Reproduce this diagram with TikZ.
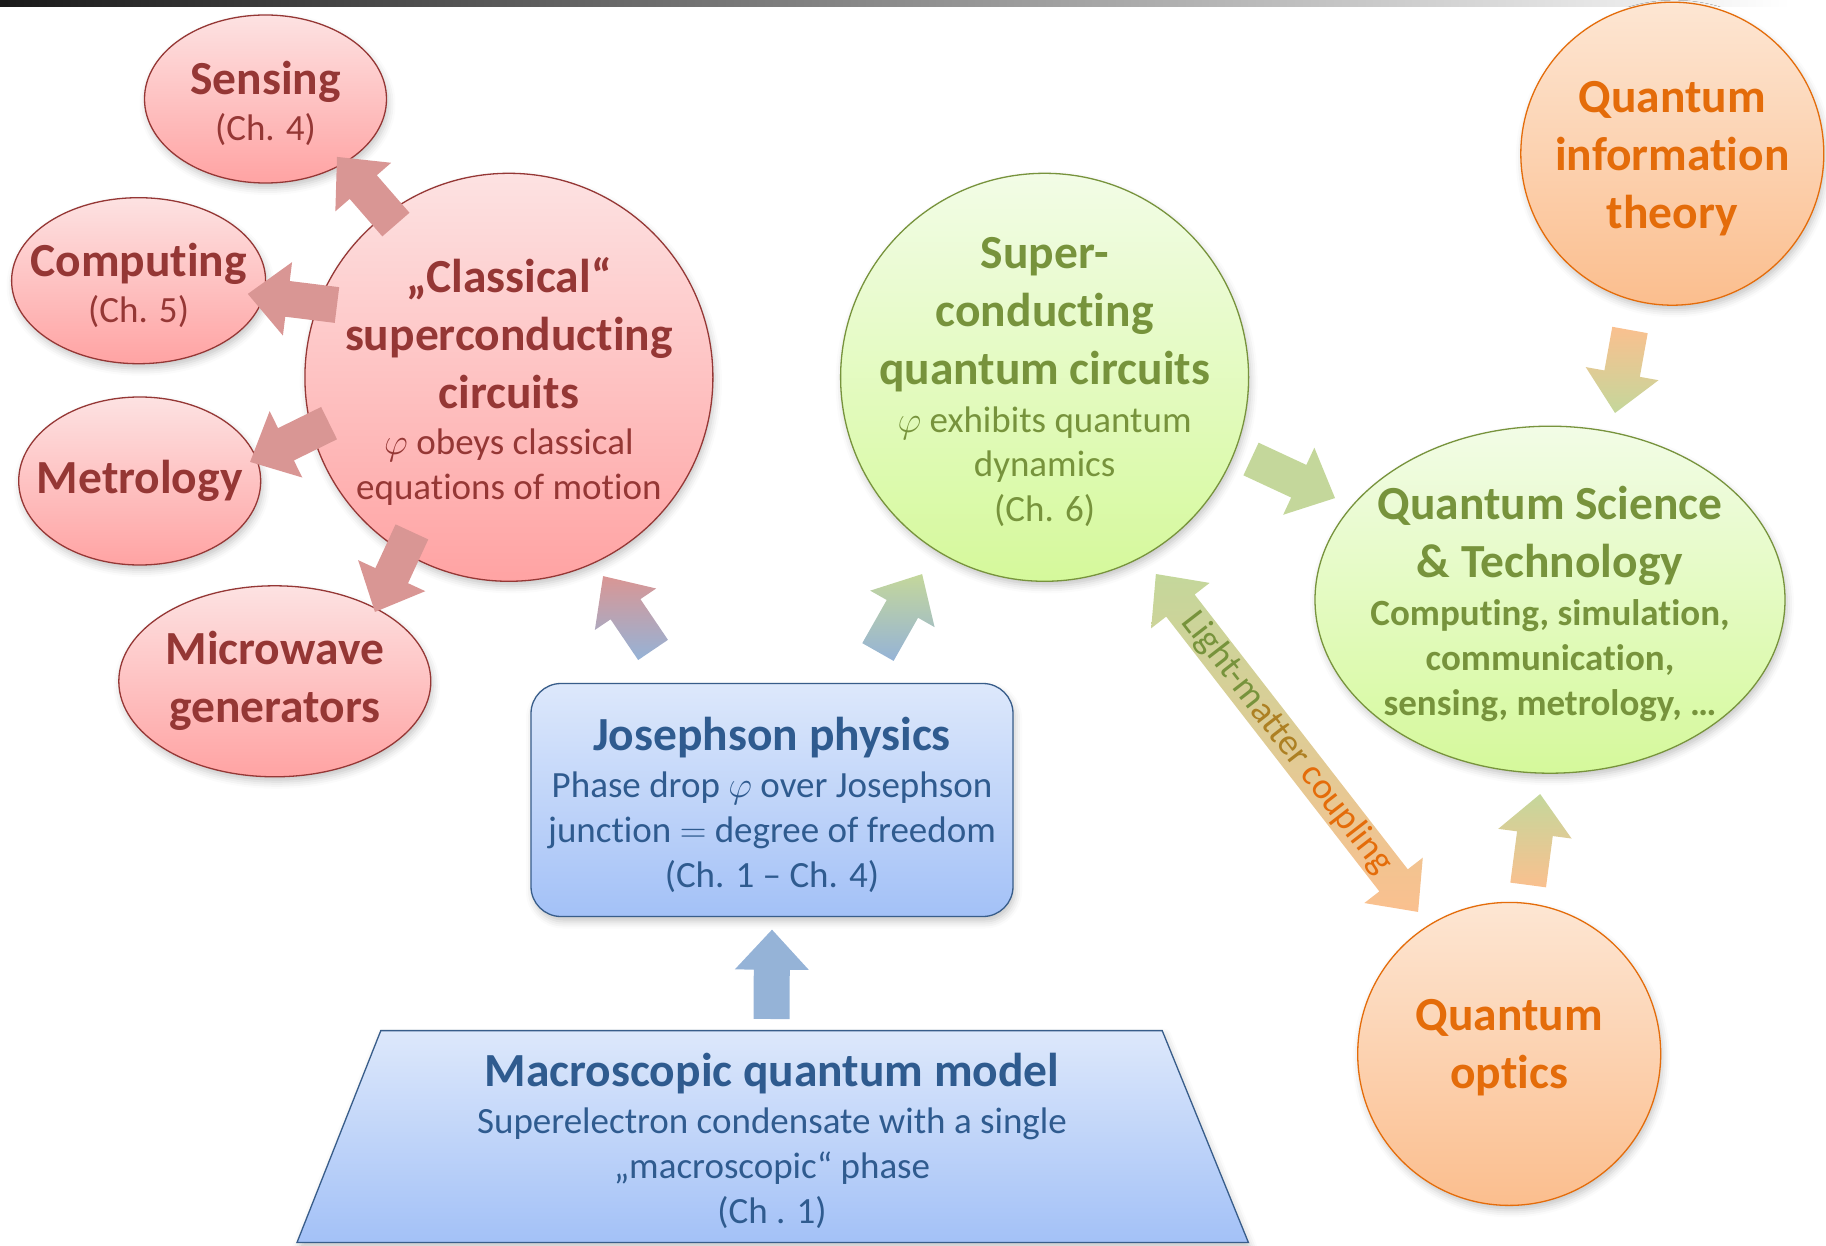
\RequirePackage{fix-cm}
\documentclass[tikz,border=0pt]{standalone}
\usepackage{fontspec}
\setmainfont{Carlito}[Ligatures=CommonOff]
\usetikzlibrary{shapes.geometric, calc, shadows.blur}

\definecolor{redline}{HTML}{953735}
\definecolor{redtop}{HTML}{FDE2E2}
\definecolor{redbot}{HTML}{FFA3A3}
\definecolor{redarrow}{HTML}{D99694}
\definecolor{greenline}{HTML}{77933C}
\definecolor{greentop}{HTML}{F2FCE6}
\definecolor{greenbot}{HTML}{D5F99B}
\definecolor{greenarrow}{HTML}{C4D79B}
\definecolor{orangeline}{HTML}{E46C0A}
\definecolor{orangetop}{HTML}{FDE6D3}
\definecolor{orangebot}{HTML}{FBBE8E}
\definecolor{orangearrow}{HTML}{FAC08F}
\definecolor{blueline}{HTML}{385D8A}
\definecolor{bluetext}{HTML}{2F5B8F}
\definecolor{bluetop}{HTML}{DDE8FB}
\definecolor{bluebot}{HTML}{A3C1F7}
\definecolor{bluearrow}{HTML}{95B3D7}

\newcommand\bigf{\fontsize{47.5}{58}\selectfont\bfseries}
\newcommand\smallf{\fontsize{37}{45}\selectfont\mdseries}
\newcommand\smallbf{\fontsize{37}{45}\selectfont\bfseries}

% block arrow from tail #2 to tip #3
\newcommand\blockarrow[3][]{%
  \coordinate (ba-tail) at #2;
  \coordinate (ba-tip) at #3;
  \coordinate (ba-base) at ($(ba-tip)!\headlen!(ba-tail)$);
  \path[#1] ($(ba-tail)!\shaftw!90:(ba-tip)$) -- ($(ba-base)!\shaftw!-90:(ba-tail)$)
    -- ($(ba-base)!\headw!-90:(ba-tail)$) -- (ba-tip)
    -- ($(ba-base)!\headw!90:(ba-tail)$) -- ($(ba-base)!\shaftw!90:(ba-tail)$)
    -- ($(ba-tail)!\shaftw!-90:(ba-tip)$) -- cycle;}
% block arrow with two heads
\newcommand\dblockarrow[3][]{%
  \coordinate (ba-tail) at #2;
  \coordinate (ba-tip) at #3;
  \coordinate (ba-base) at ($(ba-tip)!\headlen!(ba-tail)$);
  \coordinate (ba-back) at ($(ba-tail)!\headlen!(ba-tip)$);
  \path[#1] (ba-tail) -- ($(ba-back)!\headw!90:(ba-tip)$) -- ($(ba-back)!\shaftw!90:(ba-tip)$)
    -- ($(ba-base)!\shaftw!-90:(ba-tail)$) -- ($(ba-base)!\headw!-90:(ba-tail)$) -- (ba-tip)
    -- ($(ba-base)!\headw!90:(ba-tail)$) -- ($(ba-base)!\shaftw!90:(ba-tail)$)
    -- ($(ba-back)!\shaftw!-90:(ba-tip)$) -- ($(ba-back)!\headw!-90:(ba-tip)$) -- cycle;}

\begin{document}
\begin{tikzpicture}[x=1pt, y=-1pt,
    softshadow/.style={blur shadow={shadow xshift=2pt, shadow yshift=-5pt, shadow blur radius=7pt, shadow opacity=22}},
    bubble/.style={ellipse, line width=1.3pt, inner sep=0pt, softshadow},
    redball/.style={bubble, draw=redline, top color=redtop, bottom color=redbot},
    greenball/.style={bubble, draw=greenline, top color=greentop, bottom color=greenbot},
    orangeball/.style={bubble, draw=orangeline, top color=orangetop, bottom color=orangebot},
    bluebox/.style={draw=blueline, line width=1.3pt, top color=bluetop, bottom color=bluebot, softshadow},
    txt/.style={align=center, inner sep=0pt, font=\bigf, yshift=-4.5pt},
    redtxt/.style={txt, text=redline},
    greentxt/.style={txt, text=greenline},
    orangetxt/.style={txt, text=orangeline},
    bluetxt/.style={txt, text=bluetext},
    redarr/.style={fill=redarrow},
    bluearr/.style={fill=bluearrow},
    greenarr/.style={fill=greenarrow},
  ]
  \def\shaftw{18pt}
  \def\headw{37pt}
  \def\headlen{40pt}
  \useasboundingbox (0,0) rectangle (1826,1246);

  % top bar
  \shade[left color=black!90, right color=white] (0,0) rectangle (1790,7);

  % classical side
  \node[redball, minimum width=242pt, minimum height=168pt] (sensing) at (265.5,99) {};
  \node[redtxt] (sensing-t) at (sensing) {Sensing\\[-12pt] \smallf (Ch. 4)};
  \node[redball, minimum width=254pt, minimum height=166pt] (computing) at (138.6,280.7) {};
  \node[redtxt] (computing-t) at (computing) {Computing\\[-12pt] \smallf (Ch. 5)};
  \node[redball, minimum width=242pt, minimum height=168pt] (metrology) at (139.7,481) {};
  \node[redtxt, yshift=4.5pt] (metrology-t) at (metrology) {Metrology};
  \node[redball, minimum width=312pt, minimum height=191pt] (microwave) at (274.8,681.3) {};
  \node[redtxt, yshift=5pt] (microwave-t) at (microwave) {Microwave\\generators};
  \node[redball, minimum size=408pt] (classical) at (508.9,377.3) {};
  \node[redtxt] (classical-t) at (classical) {„Classical“\\superconducting\\circuits\\[-12pt]
    \smallf $\varphi$ obeys classical\\[-13pt] \smallf equations of motion};

  % quantum side
  \node[greenball, minimum size=408pt] (qcirc) at (1044.6,377.3) {};
  \node[greentxt] (qcirc-t) at (qcirc) {Super-\\conducting\\quantum circuits\\[-10pt]
    \smallf $\varphi$ exhibits quantum\\[-14pt] \smallf dynamics\\[-13pt] \smallf (Ch. 6)};
  \node[greenball, minimum width=470pt, minimum height=347pt] (qst) at (1550,599.7) {};
  \node[greentxt] (qst-t) at (qst) {Quantum Science\\\& Technology\\[-10pt]
    \smallbf Computing, simulation,\\[-13pt] \smallbf communication,\\[-13pt] \smallbf sensing, metrology, …};
  \node[orangeball, minimum size=303pt] (qit) at (1672.3,153.7) {};
  \node[orangetxt] (qit-t) at (qit) {Quantum\\information\\theory};
  \node[orangeball, minimum size=303pt] (optics) at (1509.2,1053.9) {};
  \node[orangetxt] (optics-t) at ($(optics)+(0pt,11pt)$) {Quantum\\optics};

  % basics
  \node[bluebox, rounded corners=30pt, minimum width=482pt, minimum height=233pt] (josephson) at (772,800) {};
  \node[bluetxt] (josephson-t) at (josephson) {Josephson physics\\[-11pt]
     \smallf Phase drop $\varphi$ over Josephson\\[-13pt]
     \smallf junction $=$ degree of freedom\\[-13pt] \smallf (Ch. 1 – Ch. 4)};
  \path[bluebox] (380.8,1030.6) -- (1162.2,1030.6) -- (1248.4,1242.5) -- (297,1242.5) -- cycle;
  \coordinate (trap-top) at (771.5,1030.6);
  \node[bluetxt] (macro) at (772,1136) {Macroscopic quantum model\\[-11pt]
    \smallf Superelectron condensate with a single\\[-13pt] \smallf „macroscopic“ phase\\[-13pt] \smallf (Ch . 1)};

  % arrows
  \blockarrow[redarr]{($(classical)+(126.5:190pt)$)}{($(sensing)+(-39:92pt)$)}
  \blockarrow[redarr]{($(classical)+(157.2:186.5pt)$)}{($(computing)+(-6.9:110pt)$)}
  \blockarrow[redarr]{($(classical)+(194.3:185.6pt)$)}{($(metrology)+(9.8:112pt)$)}
  \blockarrow[redarr]{($(classical)+(237.9:182.5pt)$)}{($(microwave)+(34.7:121.8pt)$)}
  \blockarrow[top color=redarrow, bottom color=bluearrow]{($(josephson)+(128.4:191.5pt)$)}{($(classical)+(-64.65:220pt)$)}
  \blockarrow[top color=greenarrow, bottom color=bluearrow]{($(josephson)+(54.4:182pt)$)}{($(qcirc)+(238.1:231.8pt)$)}
  \blockarrow[bluearr]{($(trap-top)+(0pt,11.6pt)$)}{($(josephson.south)+(0pt,-12.5pt)$)}
  \blockarrow[greenarr]{($(qcirc)+(-21.6:222pt)$)}{($(qst)+(154.7:237.8pt)$)}
  \blockarrow[top color=orangearrow, bottom color=greenarrow]{($(qit)+(-103.5:181.3pt)$)}{($(qst)+(70.8:197.7pt)$)}
  \blockarrow[top color=greenarrow, bottom color=orangearrow]{($(optics)+(83.6:170pt)$)}{($(qst)+(-92.9:194.6pt)$)}

  % light-matter coupling
  \coordinate (lm-top) at ($(qcirc)+(-60.5:226pt)$);
  \coordinate (lm-bot) at ($(optics)+(122.7:168.7pt)$);
  \dblockarrow[top color=greenarrow, bottom color=orangearrow]{(lm-top)}{(lm-bot)}
  \path (lm-top) -- (lm-bot) node[midway, sloped, font=\smallf] (lm-t)
    {\textcolor{greenline}{Light-m}\textcolor{greenline!50!orangeline}{atter }\textcolor{orangeline}{coupling}};
\end{tikzpicture}
\end{document}
